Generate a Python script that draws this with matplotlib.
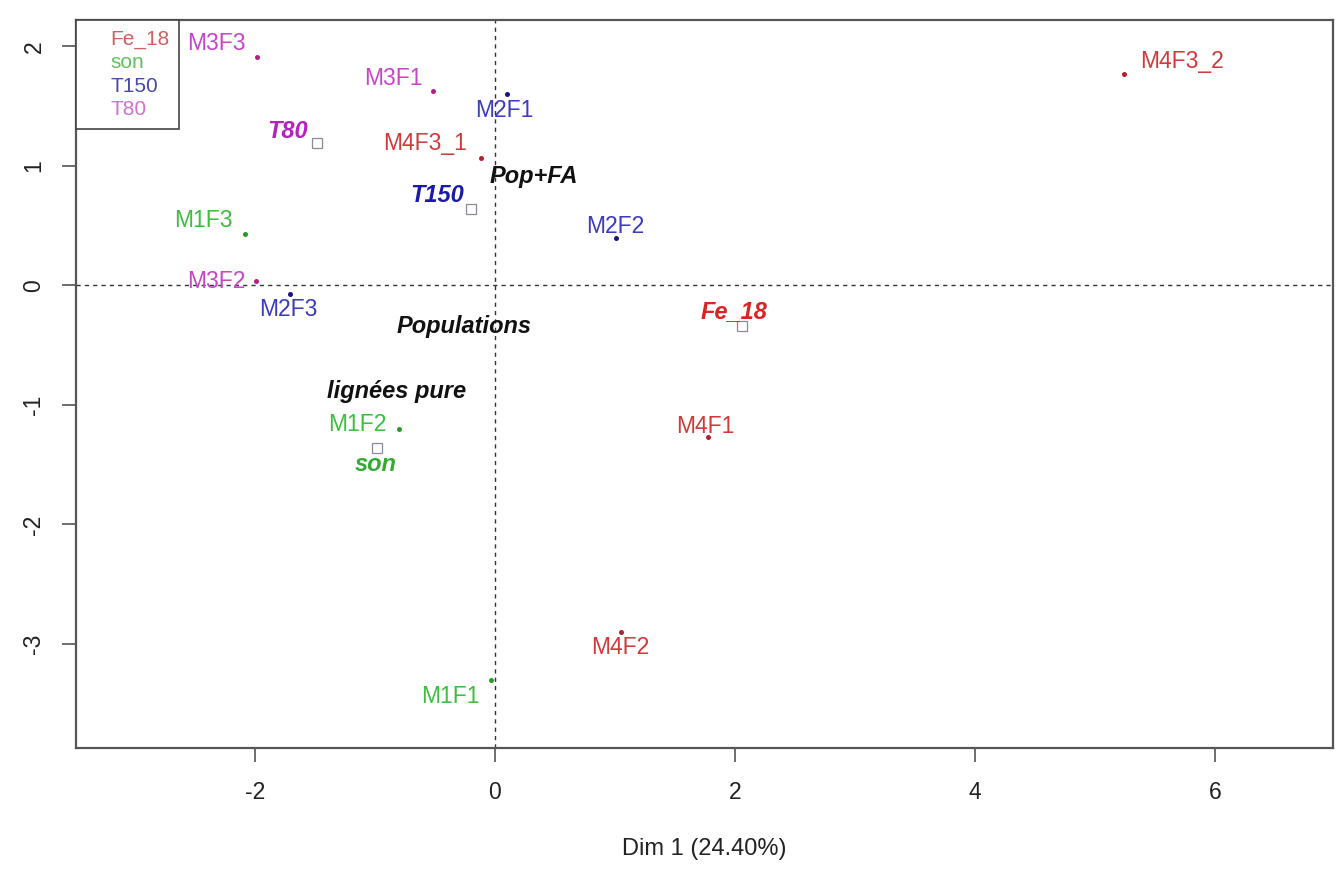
import matplotlib
matplotlib.use('Agg')
from matplotlib import pyplot as plt
from matplotlib.lines import Line2D

plt.rcParams['font.family'] = ['Liberation Sans', 'DejaVu Sans']

# individus (points) : nom, groupe, coordonnees
ind_names = ['M3F3', 'M3F1', 'M2F1', 'M4F3_1', 'M1F3', 'M2F2', 'M3F2', 'M2F3',
             'M4F1', 'M1F2', 'M4F2', 'M1F1', 'M4F3_2']
ind_group = ['T80', 'T80', 'T150', 'Fe_18', 'son', 'T150', 'T80', 'T150',
             'Fe_18', 'son', 'Fe_18', 'son', 'Fe_18']
ind_x = [-1.98, -0.52, 0.10, -0.12, -2.08, 1.01, -1.99, -1.71,
         1.77, -0.80, 1.05, -0.03, 5.24]
ind_y = [1.91, 1.63, 1.60, 1.07, 0.43, 0.40, 0.04, -0.07,
         -1.27, -1.20, -2.90, -3.30, 1.77]
# position des etiquettes (centre du texte)
lab_x = [-2.32, -0.85, 0.08, -0.58, -2.43, 1.00, -2.32, -1.72,
         1.75, -1.15, 1.04, -0.37, 5.72]
lab_y = [2.02, 1.73, 1.46, 1.19, 0.54, 0.49, 0.03, -0.20,
         -1.18, -1.16, -3.03, -3.44, 1.87]

# modalites supplementaires (carres)
sup_names = ['Fe_18', 'son', 'T150', 'T80']
sup_x = [2.06, -0.98, -0.20, -1.48]
sup_y = [-0.34, -1.36, 0.64, 1.19]
sup_lab_x = [1.99, -0.99, -0.48, -1.73]
sup_lab_y = [-0.22, -1.50, 0.75, 1.29]

# autres modalites (en noir)
oth_names = ['Pop+FA', 'Populations', 'lignées pure']
oth_x = [0.32, -0.26, -0.82]
oth_y = [0.91, -0.34, -0.89]

lab_col = {'Fe_18': '#d03a3a', 'son': '#3dbf3d', 'T150': '#3c3cc0', 'T80': '#c845c8'}
dot_col = {'Fe_18': '#b02030', 'son': '#2a9a2a', 'T150': '#151585', 'T80': '#b5207f'}
sup_col = {'Fe_18': '#dd2222', 'son': '#33aa33', 'T150': '#1a1aaa', 'T80': '#b522c0'}
leg_col = {'Fe_18': '#d06060', 'son': '#60c060', 'T150': '#4848a8', 'T80': '#d070d0'}

fig = plt.figure(figsize=(13.4, 8.71), dpi=100)
ax = fig.add_axes([0.0567, 0.1412, 0.9381, 0.8358])

ax.axhline(0, color='#333333', lw=1, ls=(0, (3, 3)), zorder=1)
ax.axvline(0, color='#333333', lw=1, ls=(0, (3, 3)), zorder=1)

for i in range(len(ind_names)):
    g = ind_group[i]
    ax.plot(ind_x[i], ind_y[i], 'o', ms=3.6, color=dot_col[g], mec='none', zorder=3)
    ax.text(lab_x[i], lab_y[i], ind_names[i], color=lab_col[g], fontsize=16.5,
            ha='center', va='center', zorder=4)

for i in range(len(sup_names)):
    g = sup_names[i]
    ax.plot(sup_x[i], sup_y[i], 's', ms=6.5, mfc='none', mec='#8a8a9a', mew=0.9, zorder=3)
    ax.text(sup_lab_x[i], sup_lab_y[i], g, color=sup_col[g], fontsize=17,
            fontweight='bold', fontstyle='italic', ha='center', va='center', zorder=4)

for i in range(len(oth_names)):
    ax.text(oth_x[i], oth_y[i], oth_names[i], color='#111111', fontsize=17,
            fontweight='bold', fontstyle='italic', ha='center', va='center', zorder=4)

ax.set_xlim(-3.49, 6.98)
ax.set_ylim(-3.87, 2.22)
ax.set_xticks([-2, 0, 2, 4, 6])
ax.set_yticks([-3, -2, -1, 0, 1, 2])
ax.set_xticklabels(['-2', '0', '2', '4', '6'])
ax.set_yticklabels(['-3', '-2', '-1', '0', '1', '2'], rotation=90, va='center')
ax.tick_params(axis='both', direction='out', length=10, width=1.2, color='#555555',
               labelsize=16.5, labelcolor='#222222')
ax.tick_params(axis='x', pad=14)
ax.tick_params(axis='y', pad=12)
for s in ax.spines.values():
    s.set_color('#555555')
    s.set_linewidth(1.6)

ax.set_xlabel('Dim 1 (24.40%)', fontsize=17, color='#222222', labelpad=24)

handles = [Line2D([], [], ls='none', marker=None) for _ in sup_names]
leg = ax.legend(handles, sup_names, loc='upper left', borderaxespad=0, fontsize=15,
                handlelength=1.2, handletextpad=0, borderpad=0.45, labelspacing=0.22,
                fancybox=False, edgecolor='#444444', framealpha=1)
leg.get_frame().set_linewidth(1.2)
for t in leg.get_texts():
    t.set_color(leg_col[t.get_text()])

fig.savefig('out.png', dpi=100)
